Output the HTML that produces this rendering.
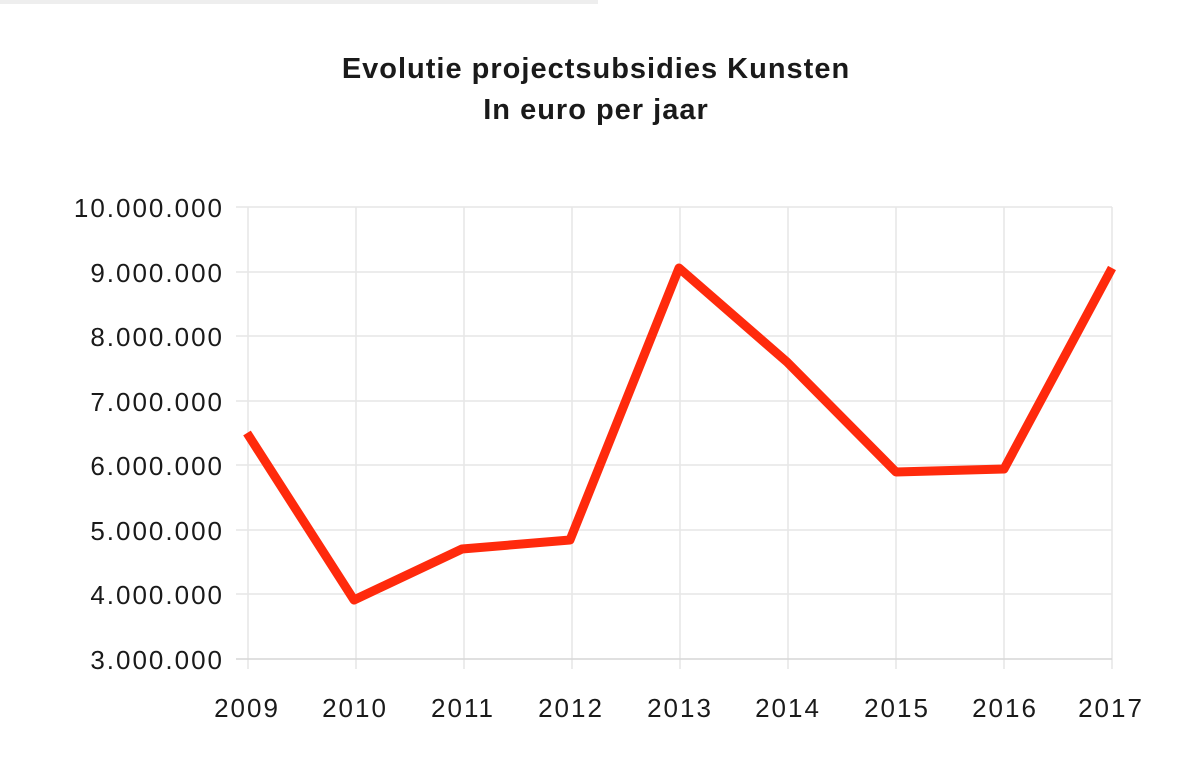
<!DOCTYPE html><html><head><style>body{margin:0;background:#fff}svg{display:block}text{font-family:"Liberation Sans",sans-serif;fill:#1a1a1a}</style></head><body>
<svg width="1200" height="780" viewBox="0 0 1200 780">
<rect x="0" y="0" width="598" height="4" fill="#eee"/>
<text x="596" y="78" text-anchor="middle" font-size="29" font-weight="bold" letter-spacing="1">Evolutie projectsubsidies Kunsten</text>
<text x="596" y="119" text-anchor="middle" font-size="29" font-weight="bold" letter-spacing="1">In euro per jaar</text>
<g stroke="#e6e6e6" stroke-width="1.5">
<line x1="236" y1="207" x2="1112" y2="207"/><line x1="236" y1="272" x2="1112" y2="272"/><line x1="236" y1="336" x2="1112" y2="336"/><line x1="236" y1="401" x2="1112" y2="401"/><line x1="236" y1="465" x2="1112" y2="465"/><line x1="236" y1="530" x2="1112" y2="530"/><line x1="236" y1="594" x2="1112" y2="594"/>
<line x1="248" y1="207" x2="248" y2="669"/><line x1="356" y1="207" x2="356" y2="669"/><line x1="464" y1="207" x2="464" y2="669"/><line x1="572" y1="207" x2="572" y2="669"/><line x1="680" y1="207" x2="680" y2="669"/><line x1="788" y1="207" x2="788" y2="669"/><line x1="896" y1="207" x2="896" y2="669"/><line x1="1004" y1="207" x2="1004" y2="669"/><line x1="1112" y1="207" x2="1112" y2="669"/>
</g>
<line x1="236" y1="659" x2="1112" y2="659" stroke="#d6d6d6" stroke-width="1.5"/>
<g font-size="26" text-anchor="end" letter-spacing="2">
<text x="224" y="217">10.000.000</text><text x="224" y="282">9.000.000</text><text x="224" y="346">8.000.000</text><text x="224" y="411">7.000.000</text><text x="224" y="475">6.000.000</text><text x="224" y="540">5.000.000</text><text x="224" y="604">4.000.000</text><text x="224" y="669">3.000.000</text>
</g>
<g font-size="26" text-anchor="middle" letter-spacing="2">
<text x="247" y="717">2009</text><text x="355" y="717">2010</text><text x="463" y="717">2011</text><text x="571" y="717">2012</text><text x="680" y="717">2013</text><text x="788" y="717">2014</text><text x="897" y="717">2015</text><text x="1005" y="717">2016</text><text x="1111" y="717">2017</text>
</g>
<polyline fill="none" stroke="#ff2a0c" stroke-width="9" stroke-linejoin="round" points="247,433 354,600 462,549 570,540 679,268 787,362 896,472 1004,469 1112,268"/>
</svg></body></html>
